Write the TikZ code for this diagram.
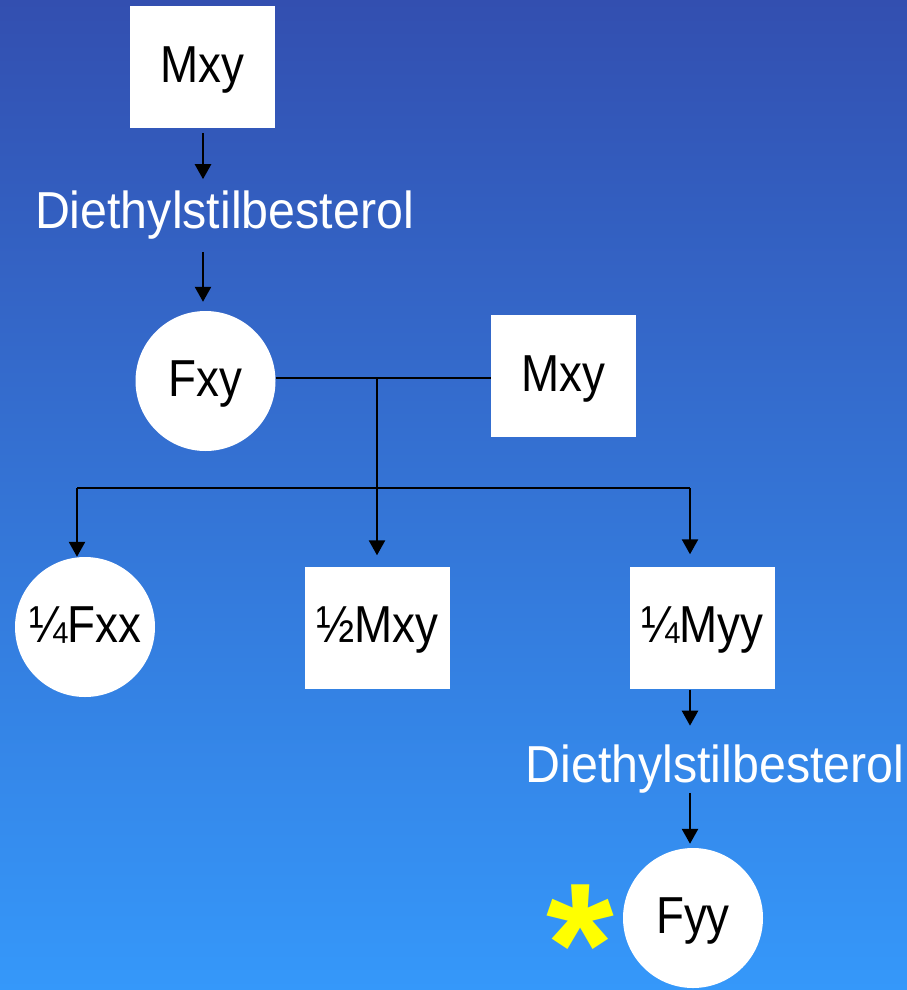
\documentclass[tikz,border=0pt]{standalone}
\usepackage{fontspec}
\setmainfont{Liberation Sans}[FakeStretch=0.88]
\newfontfamily\lblfont{Liberation Sans}[FakeStretch=0.93]
\newfontfamily\starfont{Liberation Sans Bold}
\usetikzlibrary{arrows.meta,calc}
\definecolor{bgtop}{RGB}{51,79,176}
\definecolor{bgbot}{RGB}{53,152,250}
\definecolor{staryellow}{RGB}{255,255,0}
\begin{document}
\begin{tikzpicture}[x=1pt,y=-1pt,
  txt/.style={font=\fontsize{52}{60}\selectfont, text=black, text height=37pt, text depth=7pt, inner sep=0pt},
  boxnode/.style={txt, rectangle, fill=white, minimum width=145pt, minimum height=122pt},
  circnode/.style={txt, circle, fill=white, minimum size=140pt},
  lbl/.style={font=\lblfont\fontsize{52}{60}\selectfont, text=white, inner sep=0pt},
  ln/.style={draw=black, line width=2.5pt},
  arr/.style={ln, -{Triangle[width=16pt,length=15pt]}}]
\useasboundingbox (0,0) rectangle (907,990);
\shade[top color=bgtop, bottom color=bgbot] (0,0) rectangle (907,990);

\node[boxnode] (m1) at (202.5,67) {Mxy};
\node[lbl, anchor=base] (d1) at (224.5,228) {Diethylstilbesterol};
\node[circnode] (fxy) at (205.5,381) {Fxy};
\node[boxnode] (m2) at (563.5,376) {Mxy};
\node[circnode] (fxx) at (85,627) {¼Fxx};
\node[boxnode] (half) at (377.5,627.5) {½Mxy};
\node[boxnode] (myy) at (702.5,627.5) {¼Myy};
\node[lbl, anchor=base] (d2) at (715,782) {Diethylstilbesterol};
\node[circnode] (fyy) at (693,918) {Fyy};
\node[font=\starfont\fontsize{174}{174}\selectfont, text=staryellow, inner sep=0pt, anchor=south] (ast) at (580,948) {\raisebox{-56.5pt}[61pt][0pt]{*}};

\coordinate (join) at (377,378);
\coordinate (bl) at (77,488);
\coordinate (br) at (690,488);

\draw[arr] ($(m1.south)+(0.5,5)$) -- ($(m1.south)+(0.5,51)$);
\draw[arr] ($(m1.south |- fxy.north)+(0.5,-59)$) -- ($(m1.south |- fxy.north)+(0.5,-9)$);
\draw[ln] (fxy.east |- join) -- (m2.west |- join);
\draw[arr] (join) -- ($(join |- half.north)+(0,-11)$);
\draw[ln] (bl) -- (br);
\draw[arr] (bl) -- (bl |- fxx.north);
\draw[arr] (br) -- ($(br |- myy.north)+(0,-12)$);
\draw[arr] ($(br |- myy.south)+(0,1)$) -- ($(br |- myy.south)+(0,37)$);
\draw[arr] ($(br |- fyy.north)+(0,-55)$) -- ($(br |- fyy.north)+(0,-4)$);
\end{tikzpicture}
\end{document}
